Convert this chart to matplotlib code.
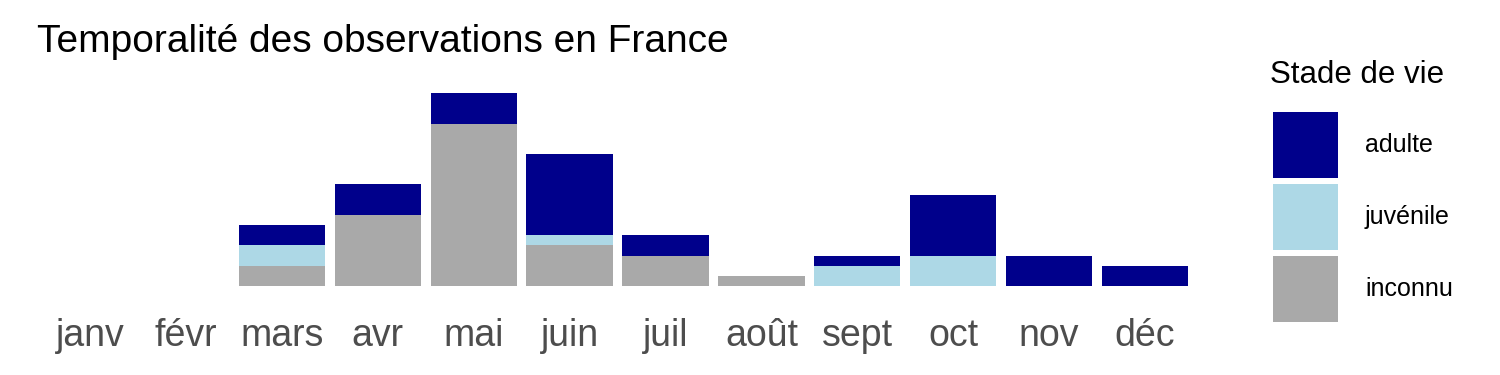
import numpy as np
import matplotlib
matplotlib.use('Agg')
import matplotlib.pyplot as plt

plt.rcParams['font.family'] = ['Liberation Sans', 'DejaVu Sans']

# observations per month, split by life stage
months = ['janv', 'févr', 'mars', 'avr', 'mai', 'juin', 'juil', 'août', 'sept', 'oct', 'nov', 'déc']
inconnu = [0, 0, 2, 7, 16, 4, 3, 1, 0, 0, 0, 0]
juvenile = [0, 0, 2, 0, 0, 1, 0, 0, 2, 3, 0, 0]
adulte = [0, 0, 2, 3, 3, 8, 2, 0, 1, 6, 3, 2]

colors = {'adulte': '#00008B', 'juvénile': '#ADD8E6', 'inconnu': '#A9A9A9'}

fig = plt.figure(figsize=(15, 3.75), dpi=100)
ax = fig.add_axes([0.0217, 0.2117, 0.78, 0.5659])

x = np.arange(len(months))
inc = np.array(inconnu)
juv = np.array(juvenile)
adu = np.array(adulte)

b_inc = ax.bar(x, inc, width=0.9, color=colors['inconnu'], label='inconnu')
b_juv = ax.bar(x, juv, width=0.9, bottom=inc, color=colors['juvénile'], label='juvénile')
b_adu = ax.bar(x, adu, width=0.9, bottom=inc + juv, color=colors['adulte'], label='adulte')

top = (inc + juv + adu).max()
ax.set_xlim(-0.6, len(months) - 0.4)
ax.set_ylim(-0.05 * top, top * 1.05)
ax.set_xticks(x)
ax.set_xticklabels(months, fontsize=27, color='#4D4D4D')
ax.tick_params(axis='x', length=0, pad=16)
ax.set_yticks([])
for s in ax.spines.values():
    s.set_visible(False)

fig.text(0.0247, 0.888, 'Temporalité des observations en France', fontsize=28,
         ha='left', va='center')

# legend
fig.text(0.847, 0.80, 'Stade de vie', fontsize=22.5, ha='left', va='center')
fig.legend(handles=[b_adu, b_juv, b_inc], labels=['adulte', 'juvénile', 'inconnu'],
           loc='upper left', bbox_to_anchor=(0.8487, 0.7013), frameon=False,
           fontsize=18, handlelength=2.6, handleheight=3.69, labelspacing=0.24,
           handletextpad=1.08, borderaxespad=0, borderpad=0)

fig.savefig('out.png', dpi=100)
